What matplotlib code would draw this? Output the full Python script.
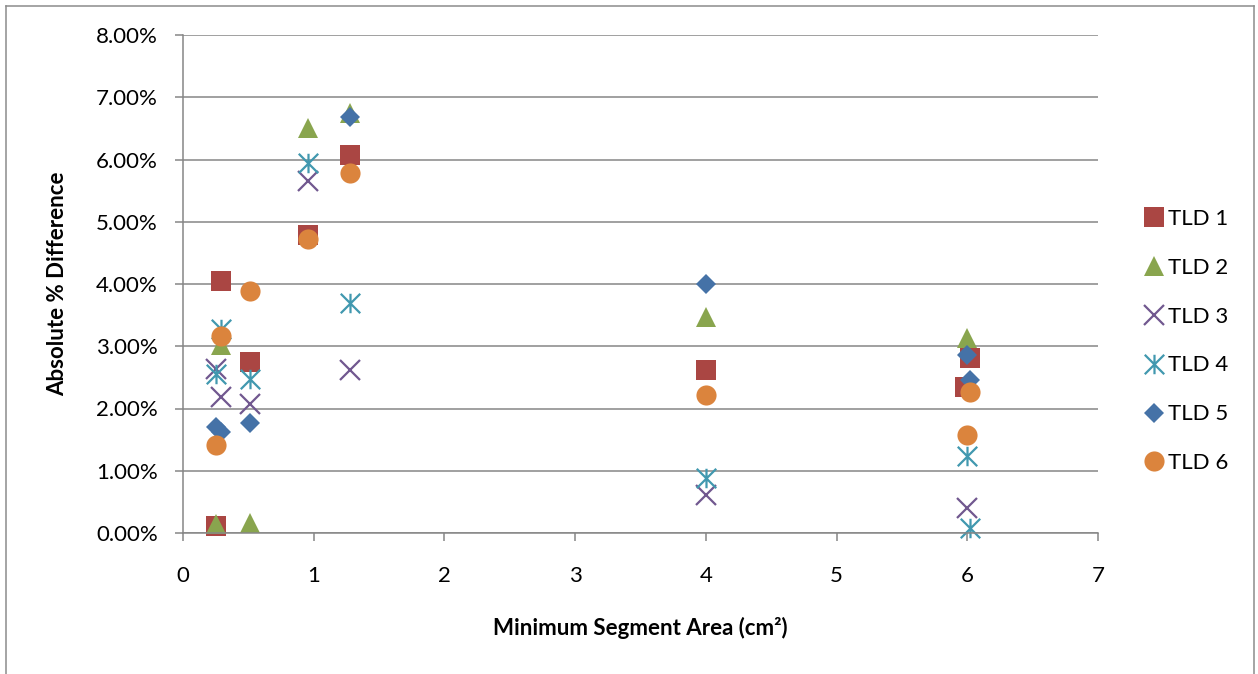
"""scatter of absolute % difference vs minimum segment area, per TLD"""

import matplotlib
matplotlib.use('Agg')
import matplotlib.pyplot as plt
from matplotlib.lines import Line2D
from matplotlib.path import Path
from matplotlib.ticker import PercentFormatter


# values (x in cm^2, y in %)
tld1_x = [0.25, 0.29, 0.51, 0.96, 1.28, 4, 5.98, 6.02]
tld1_y = [0.11, 4.05, 2.74, 4.79, 6.07, 2.62, 2.34, 2.81]

tld2_x = [0.25, 0.29, 0.51, 0.96, 1.28, 4, 6]
tld2_y = [0.15, 3.02, 0.16, 6.50, 6.74, 3.47, 3.13]

tld3_x = [0.25, 0.29, 0.51, 0.96, 1.28, 4, 6]
tld3_y = [2.63, 2.19, 2.08, 5.66, 2.62, 0.61, 0.40]

tld4_x = [0.25, 0.29, 0.51, 0.96, 1.28, 4, 6, 6.02]
tld4_y = [2.55, 3.28, 2.47, 5.94, 3.69, 0.88, 1.24, 0.08]

tld5_x = [0.25, 0.29, 0.51, 1.28, 4, 6, 6.02]
tld5_y = [1.71, 1.62, 1.77, 6.69, 4.00, 2.86, 2.46]

tld6_x = [0.25, 0.29, 0.51, 0.96, 1.28, 4, 6, 6.02]
tld6_y = [1.41, 3.17, 3.89, 4.73, 5.78, 2.22, 1.57, 2.27]

labels = ['TLD 1', 'TLD 2', 'TLD 3', 'TLD 4', 'TLD 5', 'TLD 6']
colors = ['#AA4643', '#89A54E', '#71588F', '#4198AF', '#4572A7', '#DB843D']

x_ticks = [0, 1, 2, 3, 4, 5, 6, 7]
y_ticks = [0, 1, 2, 3, 4, 5, 6, 7, 8]

# excel style star: x with a vertical bar through it
star = Path([(0, -1), (0, 1), (-1, -1), (1, 1), (-1, 1), (1, -1)],
            [Path.MOVETO, Path.LINETO, Path.MOVETO, Path.LINETO,
             Path.MOVETO, Path.LINETO])

markers = [('s', 14, 0), ('^', 15, 0), ('x', 14, 1.6),
           (star, 14, 1.6), ('D', 10.5, 0), ('o', 14.5, 0)]

plt.rcParams['font.family'] = ['Lato', 'DejaVu Sans']
GREY = '#868686'

fig = plt.figure(figsize=(12.58, 6.74), dpi=100)
ax = fig.add_axes([183 / 1258, 1 - 533 / 674, 915 / 1258, 498 / 674])

series = [(tld1_x, tld1_y), (tld2_x, tld2_y), (tld3_x, tld3_y),
          (tld4_x, tld4_y), (tld5_x, tld5_y), (tld6_x, tld6_y)]

for (xs, ys), label, color, (mk, ms, lw) in zip(series, labels, colors, markers):
    ax.plot(xs, ys, linestyle='none', marker=mk, markersize=ms,
            color=color, markeredgecolor=color, markeredgewidth=lw,
            label=label, clip_on=False)

ax.set_xlim(0, 7)
ax.set_ylim(0, 8)
ax.set_xticks(x_ticks)
ax.set_yticks(y_ticks)
ax.yaxis.set_major_formatter(PercentFormatter(xmax=100, decimals=2))

ax.grid(axis='y', color=GREY, linewidth=1.1)
ax.set_axisbelow(True)
for side in ['top', 'right']:
    ax.spines[side].set_visible(False)
for side in ['left', 'bottom']:
    ax.spines[side].set_color(GREY)
    ax.spines[side].set_linewidth(1.1)

ax.tick_params(axis='both', colors=GREY, labelcolor='black',
               labelsize=16, length=6, width=1.1)
ax.tick_params(axis='y', pad=12)
ax.tick_params(axis='x', pad=18)

ax.set_xlabel('Minimum Segment Area (cm²)', fontsize=16,
              fontweight='bold', labelpad=22)
ax.set_ylabel('Absolute % Difference', fontsize=16,
              fontweight='bold', labelpad=20)

fig.legend(loc='center left', bbox_to_anchor=(1145 / 1258, 1 - 341 / 674),
           frameon=False, fontsize=16, numpoints=1, handlelength=0.8,
           handletextpad=0.25, labelspacing=1.3, borderpad=0,
           borderaxespad=0)

# thin outer frame (no bottom edge, the picture is cut there)
x0, x1, y1 = 6.5 / 1258, 1254 / 1258, 1 - 6 / 674
for xs, ys in [([x0, x0], [0, y1]), ([x0, x1], [y1, y1]), ([x1, x1], [y1, 0])]:
    fig.add_artist(Line2D(xs, ys, transform=fig.transFigure,
                          color='#8c8c8c', linewidth=1.1))

fig.savefig('out.png', dpi=100)
